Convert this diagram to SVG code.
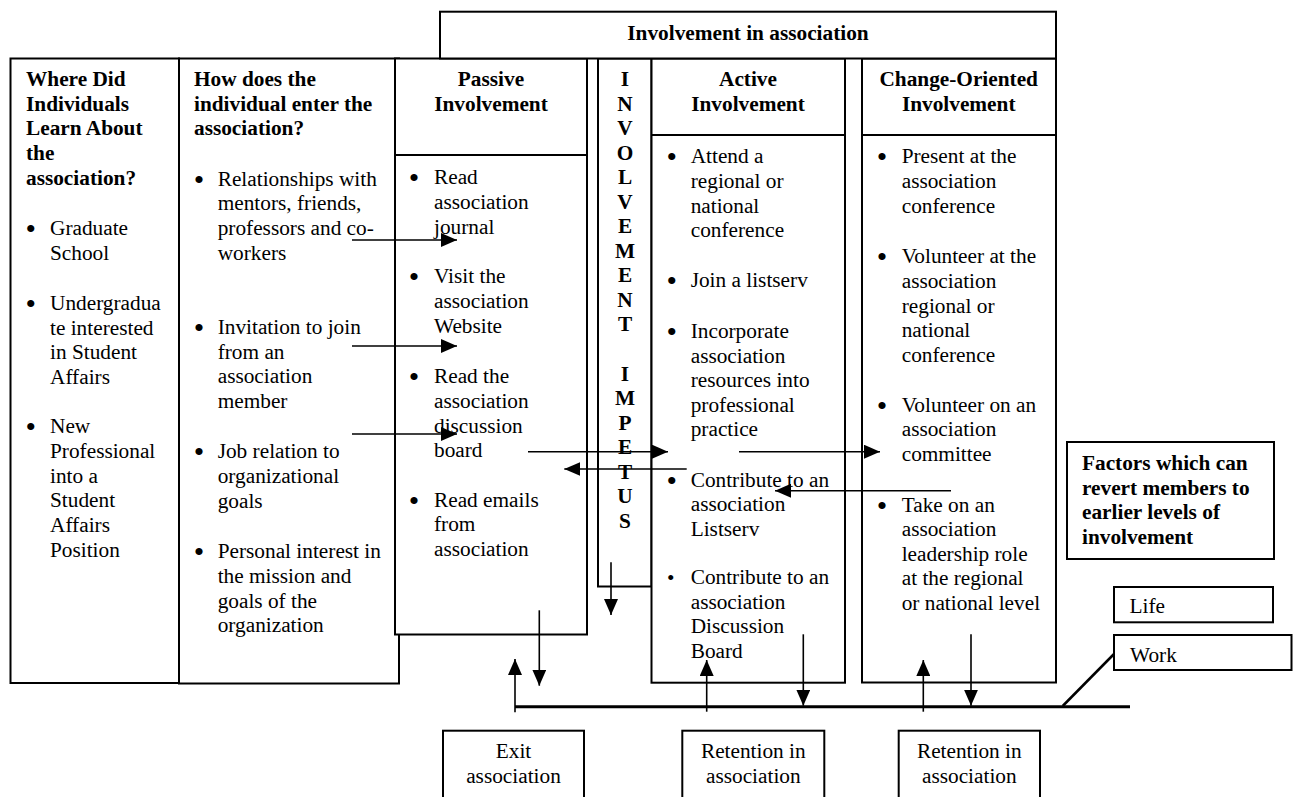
<svg xmlns="http://www.w3.org/2000/svg" width="1297" height="797" viewBox="0 0 1297 797">
<style>
.box{fill:#fff;stroke:#000;stroke-width:2}
.div{stroke:#000;stroke-width:2;fill:none}
.t{font-family:"Liberation Serif","Times New Roman",serif;font-size:21.3px;fill:#000}
.bl{font-family:"Liberation Serif","Times New Roman",serif;font-size:30px;fill:#000}
.b{font-weight:bold}
.c{text-anchor:middle}
.arr{stroke:#000;stroke-width:1.6;fill:none;marker-end:url(#ah)}
.thick{stroke:#000;stroke-width:3;fill:none}
</style>
<defs>
<marker id="ah" markerUnits="userSpaceOnUse" markerWidth="16" markerHeight="14" refX="16" refY="7" orient="auto">
<path d="M0,0 L16,7 L0,14 z" fill="#000"/>
</marker>
</defs>

<g id="col1">
<rect class="box" x="10.5" y="58.5" width="168.5" height="624.5"/>
<text class="t b"><tspan x="26" y="86">Where Did</tspan><tspan x="26" y="110.7">Individuals</tspan><tspan x="26" y="135.3">Learn About</tspan><tspan x="26" y="160">the</tspan><tspan x="26" y="184.7">association?</tspan></text>
<text class="bl"><tspan x="25.5" y="239">•</tspan><tspan x="25.5" y="314">•</tspan><tspan x="25.5" y="437.3">•</tspan></text>
<text class="t"><tspan x="50" y="235">Graduate</tspan><tspan x="50" y="259.7">School</tspan><tspan x="50" y="310">Undergradua</tspan><tspan x="50" y="334.7">te interested</tspan><tspan x="50" y="359.3">in Student</tspan><tspan x="50" y="384">Affairs</tspan><tspan x="50" y="433.3">New</tspan><tspan x="50" y="458">Professional</tspan><tspan x="50" y="482.7">into a</tspan><tspan x="50" y="507.4">Student</tspan><tspan x="50" y="532">Affairs</tspan><tspan x="50" y="556.7">Position</tspan></text>
</g>

<g id="col2">
<rect class="box" x="179" y="58.5" width="220" height="625"/>
<text class="t b"><tspan x="194" y="86">How does the</tspan><tspan x="194" y="110.7">individual enter the</tspan><tspan x="194" y="135.3">association?</tspan></text>
<text class="bl"><tspan x="193.7" y="189.7">•</tspan><tspan x="193.7" y="338">•</tspan><tspan x="193.7" y="462.3">•</tspan><tspan x="193.7" y="562.3">•</tspan></text>
<text class="t"><tspan x="217.7" y="185.7">Relationships with</tspan><tspan x="217.7" y="210.3">mentors, friends,</tspan><tspan x="217.7" y="235">professors and co-</tspan><tspan x="217.7" y="259.7">workers</tspan><tspan x="217.7" y="334">Invitation to join</tspan><tspan x="217.7" y="358.7">from an</tspan><tspan x="217.7" y="383.3">association</tspan><tspan x="217.7" y="408">member</tspan><tspan x="217.7" y="458.3">Job relation to</tspan><tspan x="217.7" y="483">organizational</tspan><tspan x="217.7" y="507.7">goals</tspan><tspan x="217.7" y="558.3">Personal interest in</tspan><tspan x="217.7" y="583">the mission and</tspan><tspan x="217.7" y="607.7">goals of the</tspan><tspan x="217.7" y="632.3">organization</tspan></text>
</g>

<g id="passive">
<rect class="box" x="395" y="58.5" width="192" height="576"/>
<line class="div" x1="395" y1="155" x2="587" y2="155"/>
<text class="t b c"><tspan x="491" y="86">Passive</tspan><tspan x="491" y="110.7">Involvement</tspan></text>
<text class="bl"><tspan x="408.7" y="188.3">•</tspan><tspan x="408.7" y="287.3">•</tspan><tspan x="408.7" y="387.3">•</tspan><tspan x="408.7" y="510.7">•</tspan></text>
<text class="t"><tspan x="434" y="184.3">Read</tspan><tspan x="434" y="209">association</tspan><tspan x="434" y="233.7">journal</tspan><tspan x="434" y="283.3">Visit the</tspan><tspan x="434" y="308">association</tspan><tspan x="434" y="332.7">Website</tspan><tspan x="434" y="383.3">Read the</tspan><tspan x="434" y="408">association</tspan><tspan x="434" y="432.7">discussion</tspan><tspan x="434" y="457.3">board</tspan><tspan x="434" y="506.7">Read emails</tspan><tspan x="434" y="531.3">from</tspan><tspan x="434" y="556">association</tspan></text>
</g>

<g id="impetus">
<rect class="box" x="598" y="58.5" width="53.5" height="528"/>
<text class="t b c"><tspan x="625" y="86">I</tspan><tspan x="625" y="110.5">N</tspan><tspan x="625" y="135">V</tspan><tspan x="625" y="159.5">O</tspan><tspan x="625" y="184">L</tspan><tspan x="625" y="208.5">V</tspan><tspan x="625" y="233">E</tspan><tspan x="625" y="257.5">M</tspan><tspan x="625" y="282">E</tspan><tspan x="625" y="306.5">N</tspan><tspan x="625" y="331">T</tspan><tspan x="625" y="380.5">I</tspan><tspan x="625" y="405">M</tspan><tspan x="625" y="429.5">P</tspan><tspan x="625" y="454">E</tspan><tspan x="625" y="478.5">T</tspan><tspan x="625" y="503">U</tspan><tspan x="625" y="527.5">S</tspan></text>
</g>

<g id="active">
<rect class="box" x="651.5" y="58.5" width="193.5" height="624.2"/>
<line class="div" x1="651.5" y1="135" x2="845" y2="135"/>
<text class="t b c"><tspan x="748" y="86">Active</tspan><tspan x="748" y="110.7">Involvement</tspan></text>
<text class="bl"><tspan x="666.4" y="167.3">•</tspan><tspan x="666.4" y="290.7">•</tspan><tspan x="666.4" y="342">•</tspan><tspan x="666.4" y="490.7">•</tspan></text>
<text class="t"><tspan x="667" y="585">•</tspan></text>
<text class="t"><tspan x="690.7" y="163.3">Attend a</tspan><tspan x="690.7" y="188">regional or</tspan><tspan x="690.7" y="212.5">national</tspan><tspan x="690.7" y="237">conference</tspan><tspan x="690.7" y="286.7">Join a listserv</tspan><tspan x="690.7" y="338">Incorporate</tspan><tspan x="690.7" y="362.5">association</tspan><tspan x="690.7" y="387">resources into</tspan><tspan x="690.7" y="411.7">professional</tspan><tspan x="690.7" y="436.3">practice</tspan><tspan x="690.7" y="486.7">Contribute to an</tspan><tspan x="690.7" y="511.2">association</tspan><tspan x="690.7" y="535.7">Listserv</tspan><tspan x="690.7" y="584">Contribute to an</tspan><tspan x="690.7" y="608.5">association</tspan><tspan x="690.7" y="633">Discussion</tspan><tspan x="690.7" y="657.5">Board</tspan></text>
</g>

<g id="change">
<rect class="box" x="862" y="58.5" width="194" height="624"/>
<line class="div" x1="862" y1="135" x2="1056" y2="135"/>
<text class="t b c"><tspan x="958.7" y="86">Change-Oriented</tspan><tspan x="958.7" y="110.7">Involvement</tspan></text>
<text class="bl"><tspan x="876.7" y="167.3">•</tspan><tspan x="876.7" y="267.3">•</tspan><tspan x="876.7" y="415.7">•</tspan><tspan x="876.7" y="515.7">•</tspan></text>
<text class="t"><tspan x="901.7" y="163.3">Present at the</tspan><tspan x="901.7" y="188">association</tspan><tspan x="901.7" y="212.5">conference</tspan><tspan x="901.7" y="263.3">Volunteer at the</tspan><tspan x="901.7" y="288">association</tspan><tspan x="901.7" y="312.5">regional or</tspan><tspan x="901.7" y="337">national</tspan><tspan x="901.7" y="361.5">conference</tspan><tspan x="901.7" y="411.7">Volunteer on an</tspan><tspan x="901.7" y="436.3">association</tspan><tspan x="901.7" y="460.8">committee</tspan><tspan x="901.7" y="511.7">Take on an</tspan><tspan x="901.7" y="536.3">association</tspan><tspan x="901.7" y="560.8">leadership role</tspan><tspan x="901.7" y="585.4">at the regional</tspan><tspan x="901.7" y="610">or national level</tspan></text>
</g>

<g id="involvement">
<rect class="box" x="440" y="11.7" width="616" height="46.8"/>
<text class="t b c" x="748" y="39.5">Involvement in association</text>
</g>

<g id="factors">
<rect class="box" x="1067" y="442" width="207" height="117"/>
<text class="t b"><tspan x="1082" y="470">Factors which can</tspan><tspan x="1082" y="494.7">revert members to</tspan><tspan x="1082" y="519.3">earlier levels of</tspan><tspan x="1082" y="544">involvement</tspan></text>
</g>

<g id="life">
<rect class="box" x="1114" y="587" width="159" height="35.3"/>
<text class="t" x="1129.5" y="613.3">Life</text>
</g>

<g id="work">
<rect class="box" x="1114" y="635" width="177.5" height="35"/>
<text class="t" x="1130" y="661.7">Work</text>
</g>

<g id="exit">
<rect class="box" x="443" y="730.7" width="141" height="80"/>
<text class="t c"><tspan x="513.5" y="758">Exit</tspan><tspan x="513.5" y="782.5">association</tspan></text>
</g>

<g id="retention1">
<rect class="box" x="682.3" y="730.7" width="142" height="80"/>
<text class="t c"><tspan x="753.3" y="758">Retention in</tspan><tspan x="753.3" y="782.5">association</tspan></text>
</g>

<g id="retention2">
<rect class="box" x="898.7" y="730.7" width="141.3" height="80"/>
<text class="t c"><tspan x="969.3" y="758">Retention in</tspan><tspan x="969.3" y="782.5">association</tspan></text>
</g>

<g id="connectors">
<line class="thick" x1="515" y1="706.7" x2="1130" y2="706.7"/>
<line stroke="#000" stroke-width="2.5" x1="1062.7" y1="706" x2="1114" y2="654"/>
<line class="arr" x1="352" y1="240" x2="457" y2="240"/>
<line class="arr" x1="352" y1="346" x2="457" y2="346"/>
<line class="arr" x1="352" y1="434" x2="457" y2="434"/>
<line class="arr" x1="528" y1="451.7" x2="668" y2="451.7"/>
<line class="arr" x1="686.7" y1="469" x2="564.3" y2="469"/>
<line class="arr" x1="739" y1="451.7" x2="880" y2="451.7"/>
<line class="arr" x1="951" y1="490.7" x2="775" y2="490.7"/>
<line class="arr" x1="611" y1="562.3" x2="611" y2="615"/>
<line class="arr" x1="539.3" y1="610.3" x2="539.3" y2="685.7"/>
<line class="arr" x1="515" y1="712.3" x2="515" y2="659"/>
<line class="arr" x1="706.7" y1="711.7" x2="706.7" y2="660"/>
<line class="arr" x1="803.3" y1="634.3" x2="803.3" y2="705.7"/>
<line class="arr" x1="923.3" y1="711.7" x2="923.3" y2="660"/>
<line class="arr" x1="971" y1="634.3" x2="971" y2="705.7"/>
</g>
</svg>
